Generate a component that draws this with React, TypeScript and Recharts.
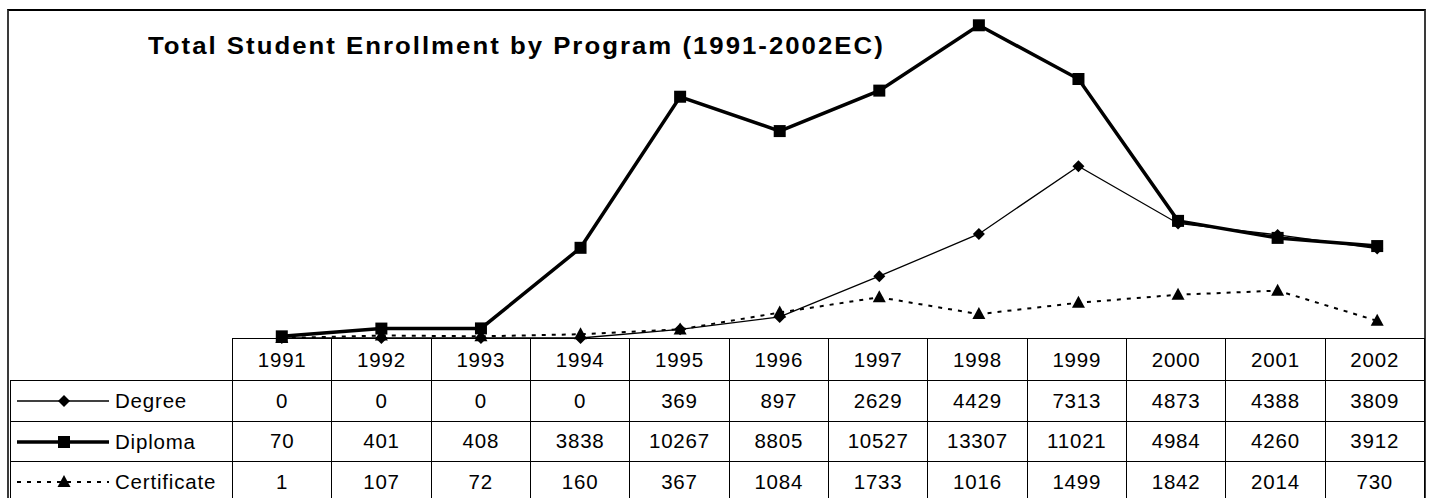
import { Line, LineChart, XAxis, YAxis } from 'recharts'

const YEARS = ['1991', '1992', '1993', '1994', '1995', '1996', '1997', '1998', '1999', '2000', '2001', '2002']
const DEGREE = [0, 0, 0, 0, 369, 897, 2629, 4429, 7313, 4873, 4388, 3809]
const DIPLOMA = [70, 401, 408, 3838, 10267, 8805, 10527, 13307, 11021, 4984, 4260, 3912]
const CERTIFICATE = [1, 107, 72, 160, 367, 1084, 1733, 1016, 1499, 1842, 2014, 730]
const Y_MAX = 14000

const TITLE = 'Total Student Enrollment by Program (1991-2002EC)'
const FONT = '"Liberation Sans", Arial, sans-serif'

const TABLE_LEFT = 10
const TABLE_RIGHT = 1424
const LABEL_COL = 222
const HEADER_TOP = 338
const PLOT_TOP = 9

type Marker = 'diamond' | 'square' | 'triangle'

const SERIES: { key: string; name: string; values: number[]; marker: Marker; width: number; dash?: string }[] = [
  { key: 'degree', name: 'Degree', values: DEGREE, marker: 'diamond', width: 1.3 },
  { key: 'diploma', name: 'Diploma', values: DIPLOMA, marker: 'square', width: 3.5 },
  { key: 'certificate', name: 'Certificate', values: CERTIFICATE, marker: 'triangle', width: 2, dash: '4 6' },
]

const rows = YEARS.map((year, i) => ({
  idx: i,
  year,
  degree: DEGREE[i],
  diploma: DIPLOMA[i],
  certificate: CERTIFICATE[i],
}))

function markerShape(kind: Marker, cx: number, cy: number, key?: string | number) {
  if (kind === 'square') {
    return <rect key={key} x={cx - 6} y={cy - 6} width={12} height={12} fill="#000" />
  }
  if (kind === 'diamond') {
    return (
      <polygon
        key={key}
        points={`${cx},${cy - 6} ${cx + 6},${cy} ${cx},${cy + 6} ${cx - 6},${cy}`}
        fill="#000"
      />
    )
  }
  return (
    <polygon
      key={key}
      points={`${cx},${cy - 7} ${cx + 6.5},${cy + 5} ${cx - 6.5},${cy + 5}`}
      fill="#000"
    />
  )
}

function LegendKey({ kind, width, dash }: { kind: Marker; width: number; dash?: string }) {
  return (
    <svg width={100} height={20} style={{ position: 'absolute', left: 1, top: 10 }}>
      <line x1={5} x2={97} y1={10} y2={10} stroke="#000" strokeWidth={width} strokeDasharray={dash} />
      {markerShape(kind, 52, 10)}
    </svg>
  )
}

export default function App() {
  const colW = (TABLE_RIGHT - TABLE_LEFT - LABEL_COL) / YEARS.length
  const cell: React.CSSProperties = {
    border: '1px solid #000',
    textAlign: 'center',
    padding: 0,
    fontSize: 20.5,
    letterSpacing: 0.8,
    color: '#000',
    lineHeight: '20px',
  }

  return (
    <div
      style={{
        position: 'absolute',
        left: 0,
        top: 0,
        width: 1430,
        height: 498,
        overflow: 'hidden',
        background: '#fff',
        fontFamily: FONT,
      }}
    >
      <div
        style={{
          position: 'absolute',
          left: 7,
          top: 9,
          width: 1415,
          height: 520,
          borderTop: '2px solid #000',
          borderLeft: '2.5px solid #3a3a3a',
          borderRight: '2.5px solid #3a3a3a',
        }}
      />
      <div
        style={{
          position: 'absolute',
          left: 148,
          top: 33,
          fontSize: 23,
          fontWeight: 'bold',
          letterSpacing: 1.8,
          whiteSpace: 'nowrap',
          color: '#000',
          transform: 'scaleX(1.12)',
          transformOrigin: 'left center',
        }}
      >
        {TITLE}
      </div>

      <table
        style={{
          position: 'absolute',
          left: TABLE_LEFT,
          top: HEADER_TOP,
          width: TABLE_RIGHT - TABLE_LEFT,
          borderCollapse: 'collapse',
          tableLayout: 'fixed',
          fontFamily: FONT,
        }}
      >
        <colgroup>
          <col style={{ width: LABEL_COL }} />
          {YEARS.map((y) => (
            <col key={y} style={{ width: colW }} />
          ))}
        </colgroup>
        <tbody>
          <tr style={{ height: 42 }}>
            <td style={{ ...cell, border: 'none' }} />
            {YEARS.map((y) => (
              <td key={y} style={cell}>
                {y}
              </td>
            ))}
          </tr>
          {SERIES.map((s) => (
            <tr key={s.key} style={{ height: 40.5 }}>
              <td style={{ ...cell, textAlign: 'left', position: 'relative' }}>
                <LegendKey kind={s.marker} width={s.width} dash={s.dash} />
                <span style={{ position: 'absolute', left: 104, top: 10 }}>{s.name}</span>
              </td>
              {s.values.map((v, i) => (
                <td key={i} style={cell}>
                  {v}
                </td>
              ))}
            </tr>
          ))}
        </tbody>
      </table>

      <div style={{ position: 'absolute', left: 0, top: 0 }}>
        <LineChart
          width={1430}
          height={498}
          data={rows}
          margin={{ top: PLOT_TOP, right: 3, bottom: 498 - HEADER_TOP, left: TABLE_LEFT + LABEL_COL }}
        >
          <XAxis dataKey="idx" type="number" domain={[-0.5, YEARS.length - 0.5]} hide />
          <YAxis type="number" domain={[0, Y_MAX]} hide />
          {SERIES.map((s) => (
            <Line
              key={s.key}
              dataKey={s.key}
              type="linear"
              stroke="#000"
              strokeWidth={s.width}
              strokeDasharray={s.dash}
              isAnimationActive={false}
              dot={(p: any) => markerShape(s.marker, p.cx, p.cy, `${s.key}-${p.index}`)}
              activeDot={false}
            />
          ))}
        </LineChart>
      </div>
    </div>
  )
}
